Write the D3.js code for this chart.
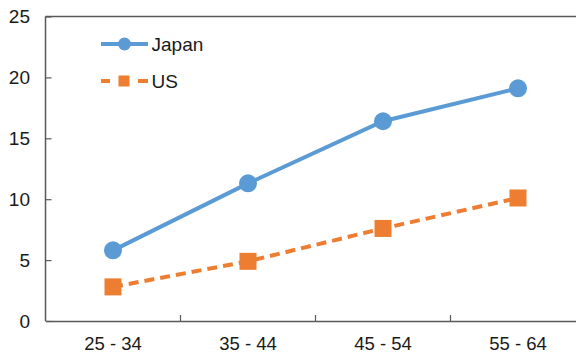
<!DOCTYPE html>
<html>
<head>
<meta charset="utf-8">
<script src="https://cdn.jsdelivr.net/npm/d3@7"></script>
<style>
  html, body { margin: 0; padding: 0; background: #fff; }
  svg { display: block; font-family: "Liberation Sans", Arial, sans-serif; }
</style>
</head>
<body>
<svg id="chart" width="576" height="356"></svg>
<script>
// Age groups on the x axis
const categories = ["25 - 34", "35 - 44", "45 - 54", "55 - 64"];
// Series values
const japanValues = [5.8, 11.3, 16.4, 19.1];
const usValues = [2.8, 4.9, 7.6, 10.1];
// Y axis ticks
const yTicks = [0, 5, 10, 15, 20, 25];

const series = [
  { name: "Japan", values: japanValues, color: "#5B9BD5", dash: null, marker: "circle" },
  { name: "US", values: usValues, color: "#ED7D31", dash: "10,6", marker: "square" }
];

const svg = d3.select("#chart");
const plotLeft = 45.5, plotRight = 585.5, plotTop = 16.5, plotBottom = 321;
const axisColor = "#595959";
const textColor = "#1a1a1a";
const fontFamily = "Liberation Sans, Arial, sans-serif";

const x = d3.scaleBand().domain(categories).range([plotLeft, plotRight]);
const y = d3.scaleLinear().domain([0, 25]).range([plotBottom, plotTop]);

// Top border of the plot area
svg.append("line")
  .attr("x1", plotLeft).attr("x2", plotRight)
  .attr("y1", plotTop).attr("y2", plotTop)
  .attr("stroke", axisColor).attr("stroke-width", 1.5);

// Y axis, ticks pointing into the plot
const yAxis = svg.append("g")
  .attr("transform", `translate(${plotLeft},0)`)
  .call(d3.axisRight(y).tickValues(yTicks).tickSize(6).tickFormat(d3.format("d")));
yAxis.select(".domain").attr("stroke", axisColor).attr("stroke-width", 1.5)
  .attr("d", `M0,${plotTop}V${plotBottom}`);
yAxis.selectAll(".tick line").attr("stroke", axisColor).attr("stroke-width", 1.2);
yAxis.selectAll(".tick text")
  .attr("x", -15.5).attr("text-anchor", "end")
  .style("font-size", "19px").style("font-family", fontFamily)
  .attr("fill", textColor);

// X axis with ticks between categories
const xAxis = svg.append("g")
  .attr("transform", `translate(0,${plotBottom})`)
  .call(d3.axisBottom(x).tickSize(0).tickPadding(15.5));
xAxis.select(".domain").attr("stroke", axisColor).attr("stroke-width", 1.5);
xAxis.selectAll(".tick text")
  .style("font-size", "18.5px").style("font-family", fontFamily)
  .attr("fill", textColor);
xAxis.selectAll(".boundary")
  .data(categories.slice(1))
  .enter().append("line")
  .attr("class", "boundary")
  .attr("x1", d => x(d)).attr("x2", d => x(d))
  .attr("y1", 0).attr("y2", -6)
  .attr("stroke", axisColor).attr("stroke-width", 1.2);

const cx = i => x(categories[i]) + x.bandwidth() / 2;

// Lines and markers
series.forEach(s => {
  const line = d3.line().x((d, i) => cx(i)).y(d => y(d));
  svg.append("path")
    .datum(s.values)
    .attr("d", line)
    .attr("fill", "none")
    .attr("stroke", s.color)
    .attr("stroke-width", 4)
    .attr("stroke-dasharray", s.dash);
  if (s.marker === "circle") {
    svg.selectAll(null).data(s.values).enter().append("circle")
      .attr("cx", (d, i) => cx(i)).attr("cy", d => y(d))
      .attr("r", 9).attr("fill", s.color);
  } else {
    const sz = 17;
    svg.selectAll(null).data(s.values).enter().append("rect")
      .attr("x", (d, i) => cx(i) - sz / 2).attr("y", d => y(d) - sz / 2)
      .attr("width", sz).attr("height", sz).attr("fill", s.color);
  }
});

// Legend
const legendRows = [44, 81];
series.forEach((s, i) => {
  const g = svg.append("g").attr("transform", `translate(0,${legendRows[i]})`);
  if (s.dash) {
    [[101, 110], [138, 148]].forEach(([a, b]) => {
      g.append("line")
        .attr("x1", a).attr("x2", b).attr("y1", 0).attr("y2", 0)
        .attr("stroke", s.color).attr("stroke-width", 4);
    });
  } else {
    g.append("line")
      .attr("x1", 101).attr("x2", 148).attr("y1", 0).attr("y2", 0)
      .attr("stroke", s.color).attr("stroke-width", 4);
  }
  if (s.marker === "circle") {
    g.append("circle").attr("cx", 124.5).attr("cy", 0).attr("r", 6.5).attr("fill", s.color);
  } else {
    g.append("rect").attr("x", 118.5).attr("y", -5.5).attr("width", 11).attr("height", 11).attr("fill", s.color);
  }
  g.append("text")
    .attr("x", 151.5).attr("y", 6.5)
    .style("font-size", "19px").style("font-family", fontFamily)
    .attr("fill", textColor)
    .text(s.name);
});
</script>
</body>
</html>
